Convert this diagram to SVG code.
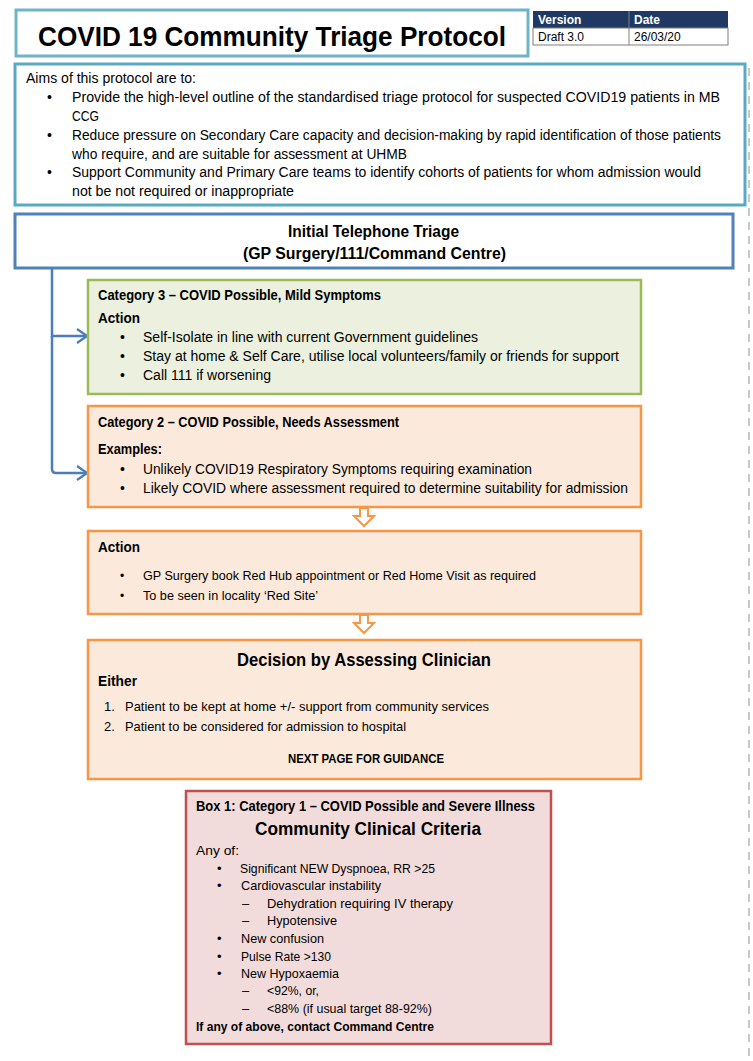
<svg xmlns="http://www.w3.org/2000/svg" width="753" height="1061" viewBox="0 0 753 1061">
<defs>
<style>
text{font-family:"Liberation Sans",Arial,sans-serif;fill:#000}
.b{font-weight:bold}
.t14{font-size:14px}
.t13{font-size:13px}
.t12{font-size:12px}
.conn{fill:none;stroke:#4a7ebb;stroke-width:2.5}
.hollow{fill:#fff;stroke:#f79646;stroke-width:2}
.orange{fill:#fbe9db;stroke:#f79646;stroke-width:2.5}
</style>
<marker id="ah" viewBox="0 0 12 16" refX="11" refY="8" markerWidth="12" markerHeight="16" markerUnits="userSpaceOnUse" orient="auto">
<path d="M1,1 L11,8 L1,15" fill="none" stroke="#4a7ebb" stroke-width="2.2"/>
</marker>
</defs>
<rect width="753" height="1061" fill="#fff"/>

<line x1="749" y1="68" x2="749" y2="1056" stroke="#c8c8c8" stroke-width="2" stroke-dasharray="8,6"/>

<g id="title">
<rect x="16" y="10" width="512" height="46" fill="#fff" stroke="#6fb3c9" stroke-width="3"/>
<text x="272" y="46" text-anchor="middle" class="b" font-size="27" textLength="468" lengthAdjust="spacingAndGlyphs">COVID 19 Community Triage Protocol</text>
</g>

<g id="version-table">
<rect x="533" y="11" width="195" height="17" fill="#1f3864"/>
<rect x="533" y="28" width="195" height="17" fill="#fff" stroke="#7f7f7f" stroke-width="1"/>
<line x1="629" y1="11" x2="629" y2="45" stroke="#7f7f7f" stroke-width="1"/>
<text x="538" y="24" class="b t12" style="fill:#fff">Version</text>
<text x="634" y="24" class="b t12" style="fill:#fff">Date</text>
<text x="538" y="41" class="t12">Draft 3.0</text>
<text x="634" y="41" class="t12">26/03/20</text>
</g>

<g id="aims">
<rect x="15" y="64" width="730" height="141" fill="#fff" stroke="#5aa9c4" stroke-width="3"/>
<text x="26" y="83" class="t14" textLength="170" lengthAdjust="spacingAndGlyphs">Aims of this protocol are to:</text>
<text x="47" y="102" class="t14">•</text>
<text x="72" y="102" class="t14" textLength="648" lengthAdjust="spacingAndGlyphs">Provide the high-level outline of the standardised triage protocol for suspected COVID19 patients in MB</text>
<text x="72" y="121" class="t14" textLength="27" lengthAdjust="spacingAndGlyphs">CCG</text>
<text x="47" y="140" class="t14">•</text>
<text x="72" y="140" class="t14" textLength="649" lengthAdjust="spacingAndGlyphs">Reduce pressure on Secondary Care capacity and decision-making by rapid identification of those patients</text>
<text x="72" y="159" class="t14" textLength="335" lengthAdjust="spacingAndGlyphs">who require, and are suitable for assessment at UHMB</text>
<text x="47" y="177" class="t14">•</text>
<text x="72" y="177" class="t14" textLength="629" lengthAdjust="spacingAndGlyphs">Support Community and Primary Care teams to identify cohorts of patients for whom admission would</text>
<text x="72" y="196" class="t14" textLength="222" lengthAdjust="spacingAndGlyphs">not be not required or inappropriate</text>
</g>

<g id="initial-triage">
<rect x="15" y="214" width="718" height="54" fill="#fff" stroke="#4f81bd" stroke-width="3"/>
<text x="373.5" y="237" text-anchor="middle" class="b" font-size="16" textLength="171" lengthAdjust="spacingAndGlyphs">Initial Telephone Triage</text>
<text x="374.5" y="259" text-anchor="middle" class="b" font-size="16" textLength="263" lengthAdjust="spacingAndGlyphs">(GP Surgery/111/Command Centre)</text>
</g>

<g id="connectors">
<path class="conn" d="M52,268 V336 H87" marker-end="url(#ah)"/>
<path class="conn" d="M52,336 V469 Q52,473 56,473 H87" marker-end="url(#ah)"/>
<polygon class="hollow" points="360,508 368,508 368,516 374,516 364,526 354,516 360,516"/>
<polygon class="hollow" points="360,615 368,615 368,623 374,623 364,633 354,623 360,623"/>
</g>

<g id="category3">
<rect x="88" y="280" width="553" height="114" fill="#ebf1de" stroke="#9bbb59" stroke-width="2.5"/>
<text x="98" y="300" class="b t14" textLength="283" lengthAdjust="spacingAndGlyphs">Category 3 – COVID Possible, Mild Symptoms</text>
<text x="98" y="323" class="b t14" textLength="42" lengthAdjust="spacingAndGlyphs">Action</text>
<text x="120" y="342" class="t14">•</text>
<text x="143" y="342" class="t14" textLength="335" lengthAdjust="spacingAndGlyphs">Self-Isolate in line with current Government guidelines</text>
<text x="120" y="361" class="t14">•</text>
<text x="143" y="361" class="t14" textLength="476" lengthAdjust="spacingAndGlyphs">Stay at home &amp; Self Care, utilise local volunteers/family or friends for support</text>
<text x="120" y="380" class="t14">•</text>
<text x="143" y="380" class="t14" textLength="128" lengthAdjust="spacingAndGlyphs">Call 111 if worsening</text>
</g>

<g id="category2">
<rect class="orange" x="88" y="406" width="553" height="101"/>
<text x="98" y="427" class="b t14" textLength="301" lengthAdjust="spacingAndGlyphs">Category 2 – COVID Possible, Needs Assessment</text>
<text x="98" y="454" class="b t14" textLength="64" lengthAdjust="spacingAndGlyphs">Examples:</text>
<text x="120" y="474" class="t14">•</text>
<text x="143" y="474" class="t14" textLength="389" lengthAdjust="spacingAndGlyphs">Unlikely COVID19 Respiratory Symptoms requiring examination</text>
<text x="120" y="493" class="t14">•</text>
<text x="143" y="493" class="t14" textLength="485" lengthAdjust="spacingAndGlyphs">Likely COVID where assessment required to determine suitability for admission</text>
</g>

<g id="action">
<rect class="orange" x="88" y="531" width="553" height="83"/>
<text x="98" y="552" class="b t14" textLength="42" lengthAdjust="spacingAndGlyphs">Action</text>
<text x="120" y="580" class="t12">•</text>
<text x="143" y="580" class="t13" textLength="393" lengthAdjust="spacingAndGlyphs">GP Surgery book Red Hub appointment or Red Home Visit as required</text>
<text x="120" y="600" class="t12">•</text>
<text x="143" y="600" class="t13" textLength="175" lengthAdjust="spacingAndGlyphs">To be seen in locality ‘Red Site’</text>
</g>

<g id="decision">
<rect class="orange" x="88" y="640" width="553" height="139"/>
<text x="364" y="666" text-anchor="middle" class="b" font-size="18" textLength="254" lengthAdjust="spacingAndGlyphs">Decision by Assessing Clinician</text>
<text x="98" y="686" class="b t14" textLength="39" lengthAdjust="spacingAndGlyphs">Either</text>
<text x="104" y="711" class="t13">1.</text>
<text x="125" y="711" class="t13" textLength="364" lengthAdjust="spacingAndGlyphs">Patient to be kept at home +/- support from community services</text>
<text x="104" y="731" class="t13">2.</text>
<text x="125" y="731" class="t13" textLength="281" lengthAdjust="spacingAndGlyphs">Patient to be considered for admission to hospital</text>
<text x="366" y="763" text-anchor="middle" class="b t13" textLength="156" lengthAdjust="spacingAndGlyphs">NEXT PAGE FOR GUIDANCE</text>
</g>

<g id="box1">
<rect x="186" y="791" width="365" height="253" fill="#f2dcdb" stroke="#c0504d" stroke-width="2.5"/>
<text x="365.5" y="811" text-anchor="middle" class="b t14" textLength="339" lengthAdjust="spacingAndGlyphs">Box 1: Category 1 – COVID Possible and Severe Illness</text>
<text x="368" y="835" text-anchor="middle" class="b" font-size="18" textLength="226" lengthAdjust="spacingAndGlyphs">Community Clinical Criteria</text>
<text x="196" y="855" class="t13" textLength="43" lengthAdjust="spacingAndGlyphs">Any of:</text>
<text x="217" y="873" class="t13">•</text>
<text x="240" y="873" class="t13" textLength="195" lengthAdjust="spacingAndGlyphs">Significant NEW Dyspnoea, RR &gt;25</text>
<text x="217" y="890" class="t13">•</text>
<text x="241" y="890" class="t13" textLength="140" lengthAdjust="spacingAndGlyphs">Cardiovascular instability</text>
<text x="242" y="908" class="t13">–</text>
<text x="267" y="908" class="t13" textLength="186" lengthAdjust="spacingAndGlyphs">Dehydration requiring IV therapy</text>
<text x="242" y="925" class="t13">–</text>
<text x="267" y="925" class="t13" textLength="70" lengthAdjust="spacingAndGlyphs">Hypotensive</text>
<text x="217" y="943" class="t13">•</text>
<text x="241" y="943" class="t13" textLength="83" lengthAdjust="spacingAndGlyphs">New confusion</text>
<text x="217" y="961" class="t13">•</text>
<text x="241" y="961" class="t13" textLength="90" lengthAdjust="spacingAndGlyphs">Pulse Rate &gt;130</text>
<text x="217" y="978" class="t13">•</text>
<text x="241" y="978" class="t13" textLength="98" lengthAdjust="spacingAndGlyphs">New Hypoxaemia</text>
<text x="242" y="995" class="t13">–</text>
<text x="267" y="995" class="t13" textLength="52" lengthAdjust="spacingAndGlyphs">&lt;92%, or,</text>
<text x="242" y="1013" class="t13">–</text>
<text x="267" y="1013" class="t13" textLength="165" lengthAdjust="spacingAndGlyphs">&lt;88% (if usual target 88-92%)</text>
<text x="196" y="1031" class="b t13" textLength="238" lengthAdjust="spacingAndGlyphs">If any of above, contact Command Centre</text>
</g>
</svg>
